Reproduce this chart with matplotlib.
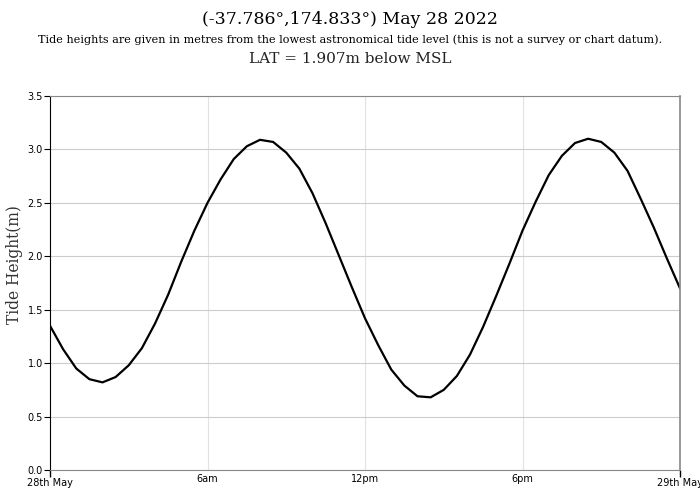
import matplotlib
matplotlib.use("Agg")
import matplotlib.pyplot as plt
from matplotlib.ticker import FixedLocator

# half-hourly tide heights (m above LAT), 28 May 2022 00:00 -> 29 May 00:00
hours = [i * 0.5 for i in range(49)]
heights = [1.35, 1.13, 0.95, 0.85, 0.82, 0.87, 0.98, 1.14, 1.37, 1.64,
           1.95, 2.24, 2.50, 2.72, 2.91, 3.03, 3.09, 3.07, 2.97, 2.82,
           2.59, 2.31, 2.01, 1.71, 1.42, 1.17, 0.94, 0.79, 0.69, 0.68,
           0.75, 0.88, 1.08, 1.34, 1.63, 1.93, 2.24, 2.51, 2.76, 2.94,
           3.06, 3.10, 3.07, 2.97, 2.80, 2.54, 2.27, 1.98, 1.70]

day_ticks = [0, 24]
day_labels = ["28th May", "29th May"]
hour_ticks = [6, 12, 18]
hour_labels = ["6am", "12pm", "6pm"]
y_ticks = [0.0, 0.5, 1.0, 1.5, 2.0, 2.5, 3.0, 3.5]

fig = plt.figure(figsize=(7, 5), dpi=100)
ax = fig.add_axes([50 / 700, 30 / 500, 630 / 700, 374 / 500])

ax.plot(hours, heights, color="black", linewidth=1.6)

ax.set_xlim(0, 24)
ax.set_ylim(0, 3.5)

ax.set_yticks(y_ticks)
ax.set_yticklabels([f"{v:.1f}" for v in y_ticks], fontsize=7)
ax.yaxis.grid(True, color="#cccccc", linewidth=0.8)
ax.tick_params(axis="y", length=4, width=0.8, pad=1)

ax.xaxis.set_major_locator(FixedLocator(day_ticks))
ax.set_xticklabels(day_labels, fontsize=7)
ax.xaxis.set_minor_locator(FixedLocator(hour_ticks))
ax.set_xticklabels(hour_labels, minor=True, fontsize=7)
ax.tick_params(axis="x", which="major", length=5, width=1, pad=1)
ax.tick_params(axis="x", which="minor", length=0, pad=3)
for v in hour_ticks:
    ax.axvline(v, color="#e2e2e2", linewidth=0.8, zorder=0)
ax.set_axisbelow(True)

ax.spines["left"].set_color("black")
for s in ["top", "right", "bottom"]:
    ax.spines[s].set_color("#888888")
ax.spines["right"].set_linewidth(1.2)

ax.set_ylabel("Tide Height(m)", family="DejaVu Serif", fontsize=11.2, color="#333333")
ax.yaxis.set_label_coords(-0.043, 0.548)

fig.text(0.5, 1 - 19 / 500, "(-37.786°,174.833°) May 28 2022", ha="center", va="center",
         family="DejaVu Serif", fontsize=12.5)
fig.text(0.5, 1 - 40 / 500,
         "Tide heights are given in metres from the lowest astronomical tide level "
         "(this is not a survey or chart datum).",
         ha="center", va="center", family="DejaVu Serif", fontsize=8.1)
fig.text(0.5, 1 - 59 / 500, "LAT = 1.907m below MSL", ha="center", va="center",
         family="DejaVu Serif", fontsize=11, color="#222222")

fig.savefig("out.png", dpi=100)
